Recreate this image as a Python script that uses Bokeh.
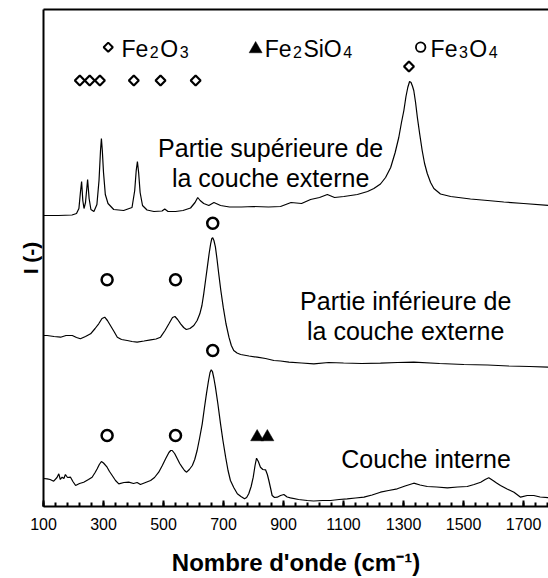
import numpy as np
from bokeh.plotting import figure
from bokeh.models import ColumnDataSource, Range1d, FixedTicker, LinearAxis
from bokeh.core.properties import value
from bokeh.embed import file_html
from bokeh.resources import INLINE

FONT = "Liberation Sans"

# ---------------- data (intensity in arbitrary units, stacked offsets) ----
top_w = [100, 150, 195, 210, 218, 223, 227, 231, 235, 240, 247, 252, 258, 268, 278, 285, 290, 293,
         296, 300, 306, 315, 334, 367, 395, 404, 409, 413, 417, 422, 430, 445, 468, 495, 504, 515,
         540, 565, 590, 605, 614, 622, 634, 651, 668, 690, 720, 760, 800, 850, 890, 925, 960, 990,
         1020, 1046, 1070, 1101, 1146, 1180, 1201, 1223, 1240, 1257, 1272, 1284, 1293, 1301, 1308,
         1314, 1320, 1325, 1330, 1334, 1340, 1346, 1354, 1362, 1370, 1379, 1390, 1401, 1423, 1457,
         1523, 1580, 1634, 1700, 1785]
top_i = [291, 291, 291.5, 293, 298, 314, 325, 306, 298, 304, 327, 308, 297, 295, 302, 326, 356, 368,
         356, 334, 312, 303, 297, 296, 299, 316, 336, 345, 334, 314, 301, 296.5, 295, 295.5, 297.5, 295,
         295, 296, 298.5, 304, 309, 306, 303, 301, 304, 301, 299.5, 299.5, 300, 299.5, 300, 304, 303, 307,
         309, 312, 309, 310, 312, 315, 318, 322.5, 329, 339, 354, 369, 384, 396, 410,
         419, 425, 424, 420, 416, 404, 389, 372, 356, 343, 333, 324, 318, 312.5, 310,
         307.5, 306, 304.5, 303, 301]

mid_w = [100, 112, 135, 157, 175, 196, 210, 223, 240, 257, 272, 284, 295, 304, 313, 323, 335, 346,
         360, 379, 395, 412, 435, 457, 475, 490, 505, 518, 530, 538, 547, 557, 567, 576, 588, 601,
         612, 621, 628, 634, 640, 646, 652, 657, 661, 664, 668, 673, 678, 684, 691, 699, 708, 718,
         726, 734, 745, 757, 785, 812, 840, 868, 890, 918, 960, 1001, 1050, 1100, 1160, 1223, 1280,
         1334, 1420, 1501, 1580, 1650, 1720, 1785]
mid_i = [171, 171, 170, 169.3, 171, 171, 169, 167.7, 170, 172.7, 178, 182.7, 188, 189.3, 186, 181, 175,
         169.3, 167, 166, 165, 164.3, 165.5, 166.7, 167.5, 169.3, 176, 182.7, 189, 190, 187, 182.7, 179,
         177, 178, 181, 186, 192.7, 201, 212.7, 226, 239.3, 253, 262.7, 268, 268.7, 266, 259.3, 248,
         232.7, 216, 199.3, 183, 169.3, 161, 156, 153.5, 152, 150.5, 149.3, 148, 146, 145.5, 144.3,
         143.5, 142.7, 144, 143.5, 143, 143.3, 144, 144.3, 143, 142, 141.5, 140.5, 140, 139.3]

bot_w = [100, 112, 122, 134, 145, 151, 156, 162, 168, 173, 180, 190, 198, 207, 220, 234, 250, 262, 272,
         279, 286, 293, 300, 312, 320, 329, 340, 351, 368, 384, 400, 412, 423, 440, 457, 470, 484, 496,
         507, 518, 524, 529, 537, 546, 554, 562, 570, 577, 586, 596, 604, 612, 620, 629, 636, 643, 650,
         655, 659, 663, 668, 673, 681, 690, 698, 707, 715, 723, 734, 746, 758, 770, 777, 784, 792, 799,
         805, 810, 816, 823, 831, 840, 846, 851, 857, 862, 870, 879, 890, 901, 912, 923, 950, 979, 1000,
         1030, 1057, 1085, 1112, 1140, 1168, 1195, 1223, 1250, 1279, 1305, 1334, 1355, 1379, 1410, 1446,
         1480, 1512, 1535, 1557, 1572, 1584, 1598, 1610, 1623, 1645, 1668, 1690, 1712, 1734, 1755, 1785]
bot_i = [28, 27.7, 27, 25.3, 29, 32.7, 27, 29.3, 28, 32, 29, 29.3, 25, 21, 23, 24.3, 27, 29.3, 34,
         37.7, 42, 45, 43.5, 39.3, 35, 31, 26, 22.7, 24, 24.3, 23, 24, 22, 24, 26, 29, 34.3, 41,
         47.7, 54, 56, 56, 53, 47.7, 43, 39.3, 36, 34.3, 37, 41, 47, 56, 68, 82.7, 98, 112.7, 126,
         134, 136.7, 135, 128, 119.3, 103, 82.7, 66, 49.3, 36, 26, 19, 12.7, 10, 7.7, 9, 12.7, 20, 29.3,
         41, 48.3, 45, 39.3, 37, 36.7, 32, 26, 18, 11, 9, 9.3, 11, 12, 9.5, 8.7, 7, 6, 5.5,
         6, 6, 7, 7.7, 8.5, 9.3, 11.5, 14.3, 16, 17.7, 20.5, 23.3, 21.5, 20, 19.5, 18.7,
         19.5, 20, 22, 24.3, 27, 28.7, 26, 23.5, 21, 17.5, 14.3, 9.3, 11, 11, 9.5, 8.7]

# peak markers
hem_w = [221, 254, 288, 401, 490, 607, 1318]
hem_i = [426, 426, 426, 426, 426, 426, 440]
mag_w = [312, 540, 664, 312, 540, 664]
mag_i = [226.7, 226.7, 283.3, 71, 71, 156]
fay_w = [812, 846]
fay_i = [69.5, 69.5]

# legend: symbol position, formula start and formula pieces (text, is_subscript)
leg_marker_w = [315.7, 807, 1357]
leg_marker_i = [459.3, 457.5, 459.3]
leg_text_w = [360, 837, 1390]
leg_text_i = [457.5, 457.5, 457.5]
leg_formulas = [[("Fe", 0), ("2", 1), ("O", 0), ("3", 1)],
                [("Fe", 0), ("2", 1), ("SiO", 0), ("4", 1)],
                [("Fe", 0), ("3", 1), ("O", 0), ("4", 1)]]

# spectrum labels
lab_w = [857, 857, 1307, 1307, 1375]
lab_i = [358.5, 328.5, 206, 176, 48]
lab_text = ["Partie supérieure de", "la couche externe",
            "Partie inférieure de", "la couche externe",
            "Couche interne"]

x_major = [100, 300, 500, 700, 900, 1100, 1300, 1500, 1700]
x_minor = list(range(100, 1790, 40))

# ---------------- figure ----------------
X0, X1 = 100, 1783
FW = 505
PX_PER_UNIT = FW / (X1 - X0)

p = figure(frame_width=FW, frame_height=497, output_backend="svg", toolbar_location=None,
           x_range=Range1d(X0, X1), y_range=Range1d(0, 497),
           min_border=0, min_border_left=43, min_border_top=9, min_border_right=0)
p.outline_line_color = None
p.grid.visible = False
p.background_fill_color = "white"
p.border_fill_color = "white"

for w, i in [(top_w, top_i), (mid_w, mid_i), (bot_w, bot_i)]:
    p.line(w, i, line_color="black", line_width=1.2)

p.scatter(hem_w, hem_i, marker="square", angle=np.pi / 4, size=7, fill_color=None,
          line_color="black", line_width=2.2)
p.scatter(mag_w, mag_i, marker="circle", size=11, fill_color=None,
          line_color="black", line_width=2.5)
p.scatter(fay_w, fay_i, marker="triangle", size=13, fill_color="black", line_color="black",
          line_width=0.5)

# legend symbols
p.scatter([leg_marker_w[0]], [leg_marker_i[0]], marker="square", angle=np.pi / 4, size=6.5,
          fill_color=None, line_color="black", line_width=2)
p.scatter([leg_marker_w[1]], [leg_marker_i[1]], marker="triangle", size=13, fill_color="black",
          line_color="black", line_width=0.5)
p.scatter([leg_marker_w[2]], [leg_marker_i[2]], marker="circle", size=9.5, fill_color=None,
          line_color="black", line_width=1.8)

# legend formulas built from normal + subscript pieces (Arial/Liberation advance widths)
ADV = {"F": 0.611, "e": 0.556, "O": 0.778, "S": 0.667, "i": 0.222}
MAIN_FS, SUB_FS, SUB_DROP, GAP = 23, 16, 3.0, 1.5
mx, my, mt, sx, sy, st = [], [], [], [], [], []
for x0, y0, pieces in zip(leg_text_w, leg_text_i, leg_formulas):
    xpx = 0.0
    for txt, sub in pieces:
        fs = SUB_FS if sub else MAIN_FS
        wpx = sum(ADV.get(c, 0.556) for c in txt) * fs
        xd = x0 + xpx / PX_PER_UNIT
        if sub:
            sx.append(xd); sy.append(y0 - SUB_DROP); st.append(txt)
        else:
            mx.append(xd); my.append(y0); mt.append(txt)
        xpx += wpx + GAP
p.text(mx, my, text=mt, text_font=value(FONT), text_font_size=f"{MAIN_FS}px",
       text_align="left", text_baseline="alphabetic", text_color="black")
p.text(sx, sy, text=st, text_font=value(FONT), text_font_size=f"{SUB_FS}px",
       text_align="left", text_baseline="alphabetic", text_color="black")

p.text(lab_w, lab_i, text=lab_text, text_font=value(FONT), text_font_size="25px",
       text_align="center", text_baseline="alphabetic", text_color="black")

# x axis
xa = p.xaxis[0]
xa.ticker = FixedTicker(ticks=x_major, minor_ticks=x_minor)
xa.axis_line_width = 2
xa.axis_line_color = "black"
xa.major_tick_in = 6
xa.major_tick_out = 0
xa.minor_tick_in = 4
xa.minor_tick_out = 0
xa.major_tick_line_width = 2
xa.minor_tick_line_width = 2
xa.major_tick_line_color = "black"
xa.minor_tick_line_color = "black"
xa.major_label_text_font = FONT
xa.major_label_text_font_size = "16px"
xa.major_label_text_color = "black"
xa.major_label_standoff = 11
xa.axis_label = "Nombre d'onde (cm\u207b\u00b9)"
xa.axis_label_text_font = FONT
xa.axis_label_text_font_size = "24px"
xa.axis_label_text_font_style = "bold"
xa.axis_label_text_color = "black"
xa.axis_label_standoff = 16

# y axis
ya = p.yaxis[0]
ya.ticker = FixedTicker(ticks=[])
ya.axis_line_width = 2
ya.axis_line_color = "black"
ya.major_tick_line_color = None
ya.minor_tick_line_color = None
ya.axis_label = "I (-)"
ya.axis_label_text_font = FONT
ya.axis_label_text_font_size = "21px"
ya.axis_label_text_font_style = "bold"
ya.axis_label_text_color = "black"
ya.axis_label_standoff = 2

# top border line
top_ax = LinearAxis(ticker=FixedTicker(ticks=[]), axis_line_width=2, axis_line_color="black",
                    major_tick_line_color=None, minor_tick_line_color=None)
p.add_layout(top_ax, "above")

open("out.html", "w").write(file_html(p, INLINE))
